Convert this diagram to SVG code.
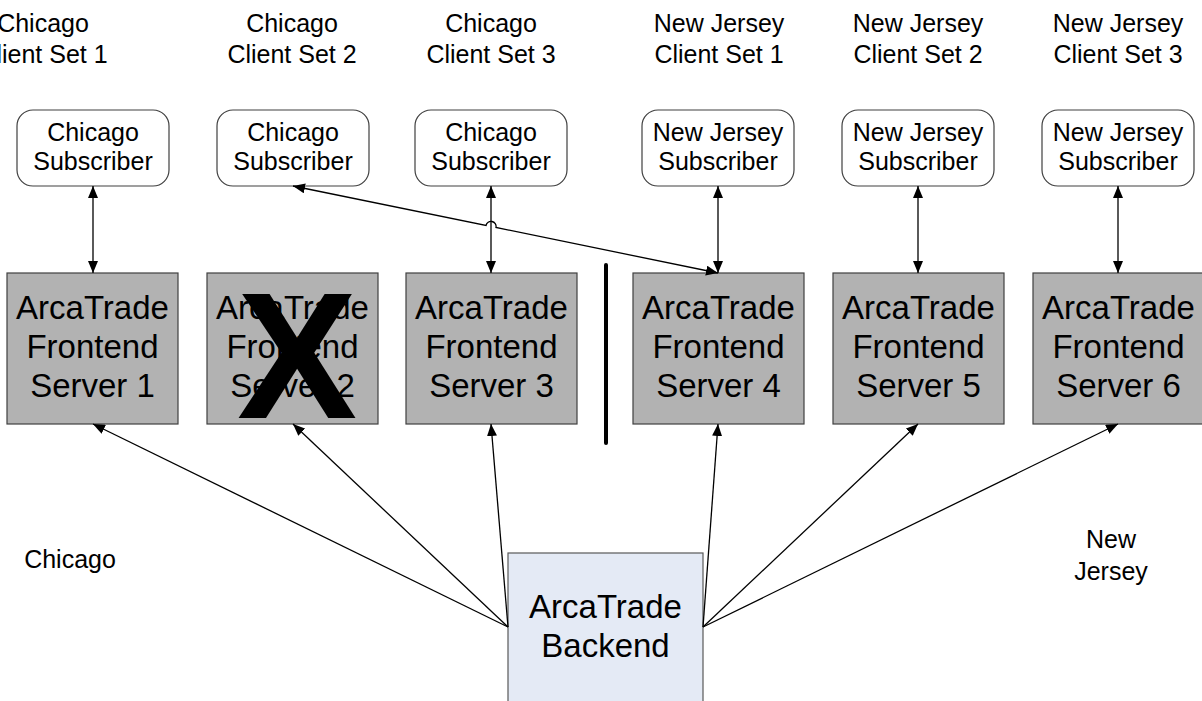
<svg xmlns="http://www.w3.org/2000/svg" width="1202" height="701" viewBox="0 0 1202 701">
<style>
text{font-family:"Liberation Sans",Arial,sans-serif;fill:#000;text-anchor:middle}
.h{font-size:25px}
.s{font-size:33px}
.sub{fill:#fff;stroke:#404040;stroke-width:1.2}
.srv{fill:#b2b2b2;stroke:#404040;stroke-width:1.2}
.be{fill:#e4eaf5;stroke:#595959;stroke-width:1.2}
.c{fill:none;stroke:#000;stroke-width:1.3}
</style>
<defs>
<marker id="ah" viewBox="0 0 12 10" refX="12" refY="5" markerWidth="12" markerHeight="10" markerUnits="userSpaceOnUse" orient="auto-start-reverse">
<path d="M0,0 L12,5 L0,10 Z" fill="#000"/>
</marker>
</defs>
<rect width="1202" height="701" fill="#fff"/>
<g id="headers">
<text class="h" x="43" y="32">Chicago</text><text class="h" x="43" y="63">Client Set 1</text>
<text class="h" x="292" y="32">Chicago</text><text class="h" x="292" y="63">Client Set 2</text>
<text class="h" x="491" y="32">Chicago</text><text class="h" x="491" y="63">Client Set 3</text>
<text class="h" x="719" y="32">New Jersey</text><text class="h" x="719" y="63">Client Set 1</text>
<text class="h" x="918" y="32">New Jersey</text><text class="h" x="918" y="63">Client Set 2</text>
<text class="h" x="1118" y="32">New Jersey</text><text class="h" x="1118" y="63">Client Set 3</text>
</g>
<g id="sub1"><rect class="sub" x="17" y="110" width="152" height="76" rx="16"/><text class="h" x="93" y="141">Chicago</text><text class="h" x="93" y="170">Subscriber</text></g>
<g id="sub2"><rect class="sub" x="217" y="110" width="152" height="76" rx="16"/><text class="h" x="293" y="141">Chicago</text><text class="h" x="293" y="170">Subscriber</text></g>
<g id="sub3"><rect class="sub" x="415" y="110" width="152" height="76" rx="16"/><text class="h" x="491" y="141">Chicago</text><text class="h" x="491" y="170">Subscriber</text></g>
<g id="sub4"><rect class="sub" x="642" y="110" width="152" height="76" rx="16"/><text class="h" x="718" y="141">New Jersey</text><text class="h" x="718" y="170">Subscriber</text></g>
<g id="sub5"><rect class="sub" x="842" y="110" width="152" height="76" rx="16"/><text class="h" x="918" y="141">New Jersey</text><text class="h" x="918" y="170">Subscriber</text></g>
<g id="sub6"><rect class="sub" x="1042" y="110" width="152" height="76" rx="16"/><text class="h" x="1118" y="141">New Jersey</text><text class="h" x="1118" y="170">Subscriber</text></g>
<g id="srv1"><rect class="srv" x="7" y="273" width="171" height="151"/><text class="s" x="92.5" y="319">ArcaTrade</text><text class="s" x="92.5" y="358">Frontend</text><text class="s" x="92.5" y="397">Server 1</text></g>
<g id="srv2"><rect class="srv" x="207" y="273" width="171" height="151"/><text class="s" x="292.5" y="319">ArcaTrade</text><text class="s" x="292.5" y="358">Frontend</text><text class="s" x="292.5" y="397">Server 2</text><text x="297" y="418" style="font-size:180px;font-weight:bold">X</text></g>
<g id="srv3"><rect class="srv" x="406" y="273" width="171" height="151"/><text class="s" x="491.5" y="319">ArcaTrade</text><text class="s" x="491.5" y="358">Frontend</text><text class="s" x="491.5" y="397">Server 3</text></g>
<g id="srv4"><rect class="srv" x="633" y="273" width="171" height="151"/><text class="s" x="718.5" y="319">ArcaTrade</text><text class="s" x="718.5" y="358">Frontend</text><text class="s" x="718.5" y="397">Server 4</text></g>
<g id="srv5"><rect class="srv" x="833" y="273" width="171" height="151"/><text class="s" x="918.5" y="319">ArcaTrade</text><text class="s" x="918.5" y="358">Frontend</text><text class="s" x="918.5" y="397">Server 5</text></g>
<g id="srv6"><rect class="srv" x="1033" y="273" width="171" height="151"/><text class="s" x="1118.5" y="319">ArcaTrade</text><text class="s" x="1118.5" y="358">Frontend</text><text class="s" x="1118.5" y="397">Server 6</text></g>
<g id="backend"><rect class="be" x="508" y="553" width="195" height="160"/><text class="s" x="605.5" y="618">ArcaTrade</text><text class="s" x="605.5" y="657">Backend</text></g>
<g id="labels">
<text class="h" x="70" y="568">Chicago</text>
<text class="h" x="1111" y="548">New</text><text class="h" x="1111" y="580">Jersey</text>
</g>
<g id="divider"><line x1="606" y1="265" x2="606" y2="443" stroke="#000" stroke-width="4" stroke-linecap="round"/></g>
<g id="connectors">
<line class="c" x1="93" y1="186" x2="93" y2="273" marker-start="url(#ah)" marker-end="url(#ah)"/>
<line class="c" x1="491" y1="186" x2="491" y2="273" marker-start="url(#ah)" marker-end="url(#ah)"/>
<line class="c" x1="718" y1="186" x2="718" y2="273" marker-start="url(#ah)" marker-end="url(#ah)"/>
<line class="c" x1="918" y1="186" x2="918" y2="273" marker-start="url(#ah)" marker-end="url(#ah)"/>
<line class="c" x1="1118" y1="186" x2="1118" y2="273" marker-start="url(#ah)" marker-end="url(#ah)"/>
<path class="c" d="M718,273 L496,227.5 A5,5 0 0 0 486,225.5 L293,186" marker-start="url(#ah)" marker-end="url(#ah)"/>
<line class="c" x1="508" y1="627" x2="93" y2="424" marker-end="url(#ah)"/>
<line class="c" x1="508" y1="627" x2="293" y2="424" marker-end="url(#ah)"/>
<line class="c" x1="508" y1="627" x2="491" y2="424" marker-end="url(#ah)"/>
<line class="c" x1="703" y1="627" x2="718" y2="424" marker-end="url(#ah)"/>
<line class="c" x1="703" y1="627" x2="918" y2="424" marker-end="url(#ah)"/>
<line class="c" x1="703" y1="627" x2="1118" y2="424" marker-end="url(#ah)"/>
</g>
</svg>
